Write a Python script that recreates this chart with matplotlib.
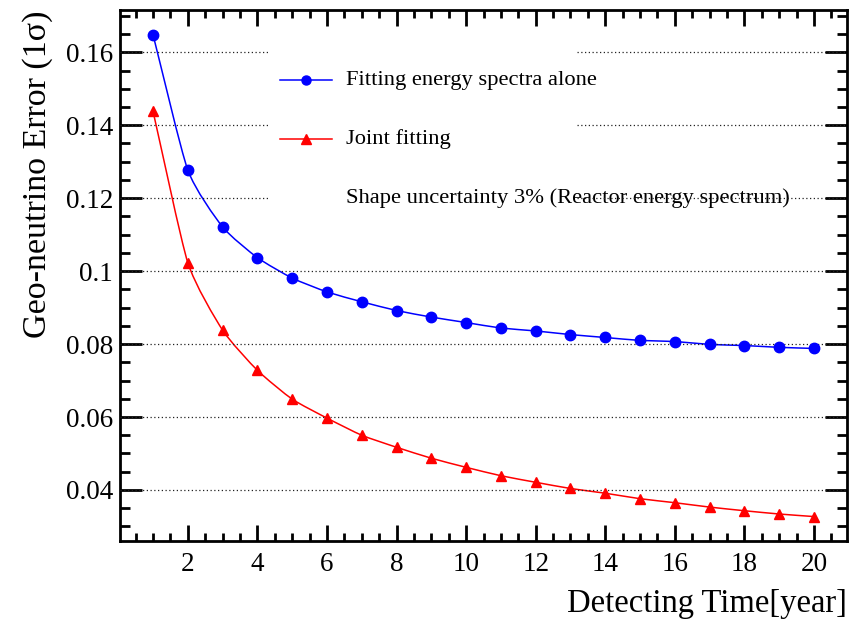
import numpy as np
import matplotlib
matplotlib.use("Agg")
import matplotlib.pyplot as plt
from matplotlib.path import Path
from matplotlib.patches import PathPatch
from matplotlib.ticker import MultipleLocator

# Detecting time in years
years = list(range(1, 21))

# Geo-neutrino 1-sigma error, fitting energy spectra alone
err_spectra = [0.1648, 0.1277, 0.1121, 0.1037, 0.0981, 0.0943, 0.0916, 0.0892,
               0.0874, 0.0859, 0.0844, 0.0836, 0.0826, 0.0818, 0.0810, 0.0807,
               0.0799, 0.0796, 0.0791, 0.0788]

# Geo-neutrino 1-sigma error, joint fitting
err_joint = [0.1438, 0.1023, 0.0838, 0.0728, 0.0649, 0.0597, 0.0550, 0.0517,
             0.0487, 0.0462, 0.0439, 0.0421, 0.0404, 0.0391, 0.0376, 0.0365,
             0.0353, 0.0343, 0.0334, 0.0327]

series_labels = ["Fitting energy spectra alone", "Joint fitting"]
note_text = "Shape uncertainty 3% (Reactor energy spectrum)"
x_label = "Detecting Time[year]"
y_label = "Geo-neutrino Error (1\u03c3)"

SERIF = ["Liberation Serif", "DejaVu Serif"]
plt.rcParams["font.family"] = SERIF


def smooth_path(xs, ys, k=1 / 10):
    """Smooth cubic Bezier curve through the points (Catmull-Rom style)."""
    p = np.column_stack([xs, ys]).astype(float)
    n = len(p)
    verts = [p[0]]
    codes = [Path.MOVETO]
    for i in range(n - 1):
        p1, p2 = p[i], p[i + 1]
        t1 = (p[i + 1] - p[i - 1]) if i > 0 else 2 * (p2 - p1)
        t2 = (p[i + 2] - p[i]) if i + 2 < n else 2 * (p2 - p1)
        c1 = p1 + t1 * k
        c2 = p2 - t2 * k
        verts += [c1, c2, p2]
        codes += [Path.CURVE4] * 3
    return Path(verts, codes)


W, H = 849, 620
fig = plt.figure(figsize=(W / 100, H / 100), dpi=100)
ax = fig.add_axes([120 / W, 1 - 541 / H, 727 / W, 531 / H])

ax.set_xlim(0.05, 20.95)
ax.set_ylim(0.026, 0.1716)

# frame and ticks on all four sides, pointing inwards
for s in ax.spines.values():
    s.set_linewidth(2.0)
ax.xaxis.set_major_locator(MultipleLocator(2))
ax.xaxis.set_minor_locator(MultipleLocator(0.5))
ax.yaxis.set_major_locator(MultipleLocator(0.02))
ax.yaxis.set_minor_locator(MultipleLocator(0.005))
ax.tick_params(axis="both", which="both", direction="in", top=True, right=True,
               width=2.0, labelsize=19.5)
ax.tick_params(axis="x", which="major", length=11.5, pad=8)
ax.tick_params(axis="x", which="minor", length=5.5)
ax.tick_params(axis="y", which="major", length=15.5, pad=5)
ax.tick_params(axis="y", which="minor", length=7.5)
ax.yaxis.set_major_formatter(plt.FuncFormatter(
    lambda v, _: "0.1" if abs(v - 0.1) < 1e-9 else f"{v:.2f}"))

# dotted horizontal grid, interrupted where the legend block sits
gap_lo, gap_hi = (268 - 120) / 727, (577 - 120) / 727
for yv in np.arange(0.04, 0.1601, 0.02):
    yv = round(yv, 2)
    segs = [(0, gap_lo), (gap_hi, 1)] if yv >= 0.12 else [(0, 1)]
    for a, b in segs:
        ax.axhline(yv, a, b, color="#222222", lw=0.9, ls=(0, (1, 2)), zorder=4)

colors = ["#0000ff", "#ff0000"]
markers = ["o", "^"]
sizes = [7.5, 7.5]
for ys, c, m, ms in zip([err_spectra, err_joint], colors, markers, sizes):
    ax.add_patch(PathPatch(smooth_path(years, ys), fill=False, edgecolor=c,
                           lw=1.1, zorder=3))
    ax.plot(years, ys, ls="none", marker=m, ms=ms, color=c, mec=c, zorder=5)

# legend block
lx0, lx1, lxm = (280 - 120) / 727, (332 - 120) / 727, (306 - 120) / 727
tx = (346 - 120) / 727
rows = [(541 - 80) / 531, (541 - 139) / 531, (541 - 198) / 531]
for lab, c, m, ry in zip(series_labels, colors, markers, rows[:2]):
    ax.plot([lx0, lx1], [ry, ry], color=c, lw=1.1, transform=ax.transAxes,
            clip_on=False, zorder=5)
    ax.plot([lxm], [ry], marker=m, ms=6.5, color=c, transform=ax.transAxes,
            clip_on=False, zorder=6)
    ax.text(tx, ry, lab, transform=ax.transAxes, fontsize=16.2, va="center",
            ha="left", zorder=6)
ax.text(tx, rows[2], note_text, transform=ax.transAxes, fontsize=16.2,
        va="center", ha="left", zorder=3)

fig.text(847 / W, 1 - 612 / H, x_label, fontsize=23.5, ha="right",
         va="baseline")
fig.text(22 / W, 1 - 10 / H, y_label, fontsize=24.5, rotation=90, ha="left",
         va="top")

fig.savefig("out.png", dpi=100)
